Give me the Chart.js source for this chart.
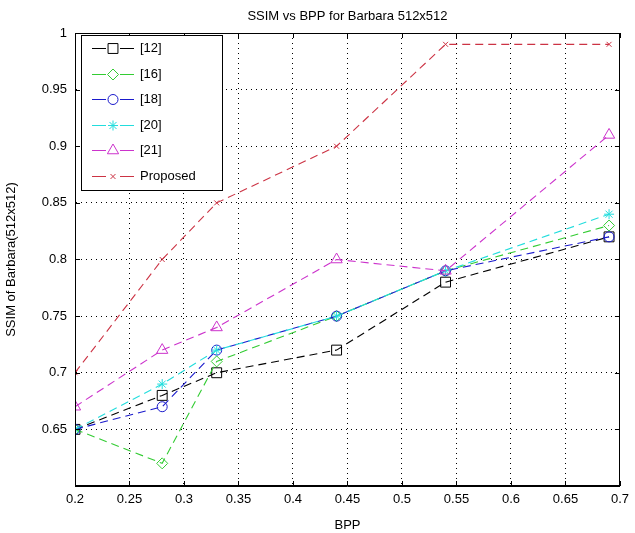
<!DOCTYPE html>
<html>
<head>
<meta charset="utf-8">
<script src="https://cdn.jsdelivr.net/npm/chart.js"></script>
<style>
  html, body { margin: 0; padding: 0; background: #fff; }
  #wrap { width: 635px; height: 533px; position: relative; }
</style>
</head>
<body>
<div id="wrap"><canvas id="c"></canvas></div>
<script>
// valeurs
const bpp = [0.2, 0.28, 0.33, 0.44, 0.54, 0.69];
const seriesNames = ['[12]', '[16]', '[18]', '[20]', '[21]', 'Proposed'];
const ssim12 = [0.65, 0.68, 0.70, 0.72, 0.78, 0.82];
const ssim16 = [0.65, 0.62, 0.71, 0.75, 0.79, 0.83];
const ssim18 = [0.65, 0.67, 0.72, 0.75, 0.79, 0.82];
const ssim20 = [0.65, 0.69, 0.72, 0.75, 0.79, 0.84];
const ssim21 = [0.67, 0.72, 0.74, 0.80, 0.79, 0.91];
const ssimProposed = [0.70, 0.80, 0.85, 0.90, 0.99, 0.99];
const xTicks = [0.2, 0.25, 0.3, 0.35, 0.4, 0.45, 0.5, 0.55, 0.6, 0.65, 0.7];
const yTicks = [0.6, 0.65, 0.7, 0.75, 0.8, 0.85, 0.9, 0.95, 1];

const FONT = '"Liberation Sans", Arial, sans-serif';
const styles = [
  { color: '#000000', point: 'rect', r: 7 },
  { color: '#33cc33', point: 'rectRot', r: 5.5 },
  { color: '#1a1acc', point: 'circle', r: 5 },
  { color: '#22dddd', point: 'star', r: 5 },
  { color: '#cc33cc', point: 'triangle', r: 6.5 },
  { color: '#cc3344', point: 'crossRot', r: 3.5 }
];
const allSeries = [ssim12, ssim16, ssim18, ssim20, ssim21, ssimProposed];

const datasets = allSeries.map((vals, i) => ({
  label: seriesNames[i],
  data: bpp.map((x, j) => ({ x: x, y: vals[j] })),
  borderColor: styles[i].color,
  backgroundColor: 'rgba(0,0,0,0)',
  pointBorderColor: styles[i].color,
  pointBackgroundColor: 'rgba(0,0,0,0)',
  pointStyle: styles[i].point,
  pointRadius: styles[i].r,
  pointBorderWidth: 1,
  borderWidth: 1.1,
  borderDash: [8, 5],
  tension: 0,
  order: 6 - i
}));

// cadre, graduations vers l'intérieur, titre et légende façon matlab
const matlabLook = {
  id: 'matlabLook',
  afterDraw(chart) {
    const ctx = chart.ctx;
    const a = chart.chartArea;
    const sx = chart.scales.x, sy = chart.scales.y;
    ctx.save();
    ctx.strokeStyle = '#000';
    ctx.lineWidth = 1;
    ctx.setLineDash([]);
    ctx.strokeRect(Math.round(a.left) + 0.5, Math.round(a.top) + 0.5,
                   Math.round(a.right - a.left) - 1, Math.round(a.bottom - a.top) - 1);
    ctx.beginPath();
    xTicks.forEach(t => {
      const px = Math.round(sx.getPixelForValue(t)) + 0.5;
      ctx.moveTo(px, a.bottom); ctx.lineTo(px, a.bottom - 5);
      ctx.moveTo(px, a.top); ctx.lineTo(px, a.top + 5);
    });
    yTicks.forEach(t => {
      const py = Math.round(sy.getPixelForValue(t)) + 0.5;
      ctx.moveTo(a.left, py); ctx.lineTo(a.left + 5, py);
      ctx.moveTo(a.right, py); ctx.lineTo(a.right - 5, py);
    });
    ctx.stroke();

    // titre
    ctx.fillStyle = '#000';
    ctx.font = '13px ' + FONT;
    ctx.textAlign = 'center';
    ctx.textBaseline = 'middle';
    ctx.fillText('SSIM vs BPP for Barbara 512x512', (a.left + a.right) / 2, 16);

    // légende
    const lx = 81, ly = 35, lw = 141, lh = 155;
    ctx.fillStyle = '#fff';
    ctx.fillRect(lx, ly, lw, lh);
    ctx.strokeStyle = '#000';
    ctx.strokeRect(lx + 0.5, ly + 0.5, lw, lh);
    seriesNames.forEach((name, i) => {
      const y = Math.round(48 + i * 25.6) + 0.5;
      const st = styles[i];
      ctx.strokeStyle = st.color;
      ctx.fillStyle = 'rgba(0,0,0,0)';
      ctx.lineWidth = 1;
      ctx.setLineDash([]);
      ctx.beginPath();
      ctx.moveTo(92, y); ctx.lineTo(106, y);
      ctx.moveTo(120, y); ctx.lineTo(134, y);
      ctx.stroke();
      if (Chart.helpers && Chart.helpers.drawPoint) {
        Chart.helpers.drawPoint(ctx, { pointStyle: st.point, radius: st.r, borderWidth: 1 }, 113, y);
      }
      ctx.fillStyle = '#000';
      ctx.textAlign = 'left';
      ctx.font = '13px ' + FONT;
      ctx.fillText(name, 140, y);
    });
    ctx.restore();
  }
};

new Chart(document.getElementById('c'), {
  type: 'line',
  data: { datasets: datasets },
  plugins: [matlabLook],
  options: {
    responsive: true,
    maintainAspectRatio: false,
    animation: false,
    events: [],
    layout: { padding: { top: 33, right: 10, left: 4, bottom: 0 } },
    plugins: {
      legend: { display: false },
      tooltip: { enabled: false },
      title: { display: false }
    },
    scales: {
      x: {
        type: 'linear',
        min: 0.2, max: 0.7,
        afterFit: s => { s.height = 47; },
        afterBuildTicks: s => { s.ticks = xTicks.map(v => ({ value: v })); },
        ticks: {
          color: '#000',
          font: { family: FONT, size: 13 },
          padding: 6,
          maxRotation: 0,
          callback: v => String(+v.toFixed(2))
        },
        grid: { color: '#000', lineWidth: 1, drawTicks: false },
        border: { display: true, color: '#000', dash: [1, 4] },
        title: { display: true, text: 'BPP', color: '#000', font: { family: FONT, size: 13 }, padding: { top: 0, bottom: 0 } }
      },
      y: {
        type: 'linear',
        min: 0.6, max: 1,
        afterFit: s => { s.width = 71; },
        afterBuildTicks: s => { s.ticks = yTicks.map(v => ({ value: v })); },
        ticks: {
          color: '#000',
          font: { family: FONT, size: 13 },
          padding: 8,
          callback: v => (v < 0.62 ? '' : String(+v.toFixed(2)))
        },
        grid: { color: '#000', lineWidth: 1, drawTicks: false },
        border: { display: true, color: '#000', dash: [1, 4] },
        title: { display: true, text: 'SSIM of Barbara(512x512)', color: '#000', font: { family: FONT, size: 13 }, padding: { top: 0, bottom: 4 } }
      }
    }
  }
});
</script>
</body>
</html>
